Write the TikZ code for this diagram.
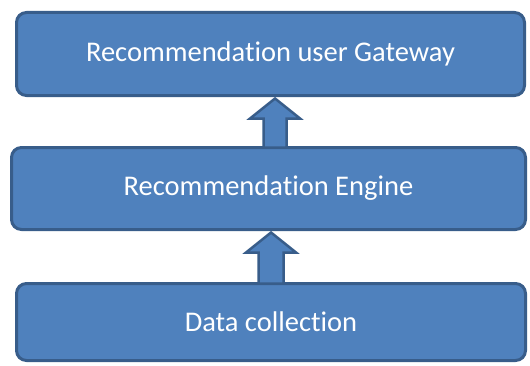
\documentclass[tikz,border=0pt]{standalone}
\usepackage{fontspec}
\setmainfont{Carlito}[Ligatures={NoCommon}]
\usetikzlibrary{calc}
\definecolor{boxfill}{HTML}{4F81BD}
\definecolor{boxline}{HTML}{385D8A}
\tikzset{
  stage/.style={draw=boxline, fill=boxfill, line width=3pt, rounded corners=10pt,
    inner sep=0pt, text=white, font=\fontsize{28.5}{32}\selectfont},
  barrow/.style={draw=boxline, fill=boxfill, line width=2.5pt, line join=miter}
}
\begin{document}
\begin{tikzpicture}[x=1pt,y=1pt]
\useasboundingbox (0,0) rectangle (530,365);
\node[stage, minimum width=508pt, minimum height=83pt] (gw) at (270.5,311) {Recommendation user Gateway};
\node[stage, minimum width=514pt, minimum height=82pt] (en) at (268.5,176.5) {Recommendation Engine};
\node[stage, minimum width=509pt, minimum height=77pt] (dc) at (271,43) {Data collection};
\draw[barrow] let \p1=($(gw.south)+(4.5,-1.5)$), \p2=($(en.north)+(0,-1.5)$) in
  (\p1) -- (\x1-25,\y1-20) -- (\x1-11.5,\y1-20) -- (\x1-11.5,\y2) -- (\x1+11.5,\y2)
  -- (\x1+11.5,\y1-20) -- (\x1+25,\y1-20) -- cycle;
\draw[barrow] let \p1=($(en.south)+(2.5,-1.5)$), \p2=($(dc.north)+(0,-1.5)$) in
  (\p1) -- (\x1-25,\y1-20) -- (\x1-12.5,\y1-20) -- (\x1-12.5,\y2) -- (\x1+12.5,\y2)
  -- (\x1+12.5,\y1-20) -- (\x1+25,\y1-20) -- cycle;
\end{tikzpicture}
\end{document}
